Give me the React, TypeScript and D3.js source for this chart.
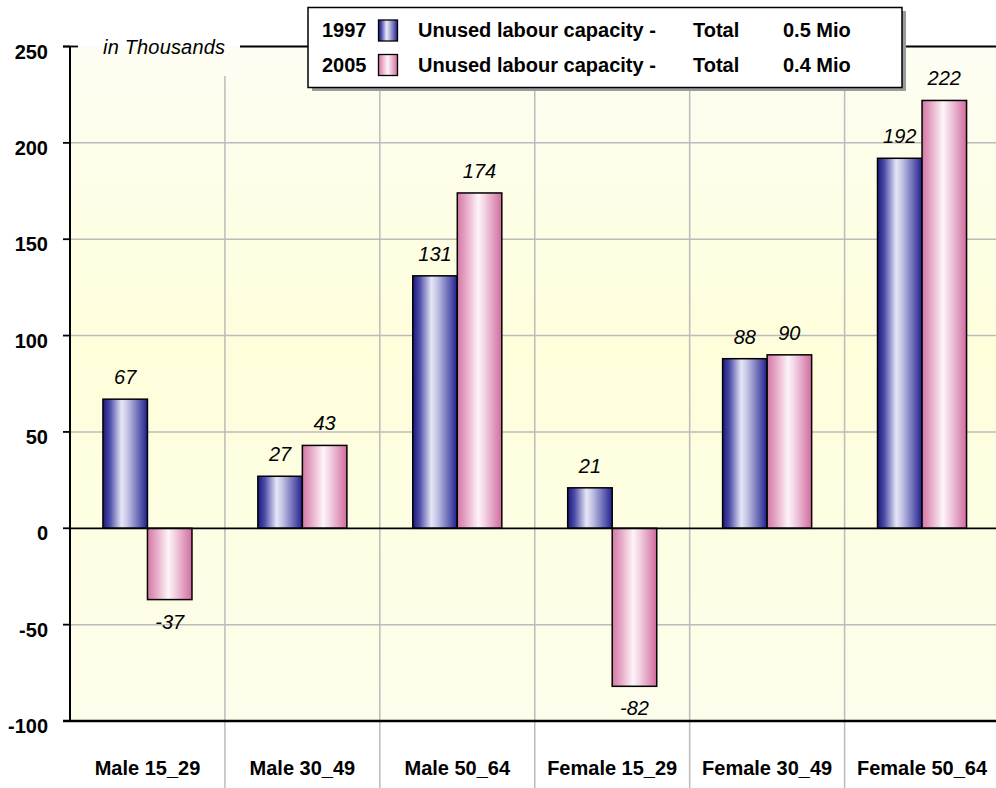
import React from "react";
import * as d3 from "d3";

const categories = ["Male 15_29", "Male 30_49", "Male 50_64", "Female 15_29", "Female 30_49", "Female 50_64"];
const seriesNames = ["1997", "2005"];
const values1997 = [67, 27, 131, 21, 88, 192];
const values2005 = [-37, 43, 174, -82, 90, 222];
const yTicks = [250, 200, 150, 100, 50, 0, -50, -100];
const legendLabels = ["Unused labour capacity -", "Unused labour capacity -"];
const legendTotals = ["0.5 Mio", "0.4 Mio"];

const W = 996;
const H = 788;
const FONT = "'Liberation Sans', Arial, sans-serif";

export default function App() {
  const x = d3.scaleBand<string>().domain(categories).range([70, 999.5]).paddingInner(0).paddingOuter(0);
  const xs = d3.scaleBand<string>().domain(seriesNames).range([0, x.bandwidth()]).paddingInner(0).paddingOuter(0.74);
  const y = d3.scaleLinear().domain([-100, 250]).range([721, 46.5]);
  const series = [values1997, values2005];
  const grads = ["gBlue", "gPink"];
  const plotL = 70;
  const plotR = 999.5;

  return (
    <svg width={W} height={H} style={{ position: "absolute", left: 0, top: 0, fontFamily: FONT }}>
      <defs>
        <linearGradient id="gBg" x1="0" y1="0" x2="0" y2="1">
          <stop offset="0" stopColor="#fdfdf3" />
          <stop offset="0.45" stopColor="#fefedb" />
          <stop offset="1" stopColor="#fdfdec" />
        </linearGradient>
        <linearGradient id="gBlue" x1="0" y1="0" x2="1" y2="0">
          <stop offset="0" stopColor="#1a1a7e" />
          <stop offset="0.15" stopColor="#4a4aa6" />
          <stop offset="0.42" stopColor="#e6e6f6" />
          <stop offset="0.55" stopColor="#c4c4e6" />
          <stop offset="0.85" stopColor="#5858ae" />
          <stop offset="1" stopColor="#20208a" />
        </linearGradient>
        <linearGradient id="gPink" x1="0" y1="0" x2="1" y2="0">
          <stop offset="0" stopColor="#d478a6" />
          <stop offset="0.2" stopColor="#e6a8c6" />
          <stop offset="0.47" stopColor="#fdf4f8" />
          <stop offset="0.6" stopColor="#f4d6e6" />
          <stop offset="1" stopColor="#d06c9e" />
        </linearGradient>
      </defs>

      <rect x={plotL} y={y(250)} width={plotR - plotL} height={y(-100) - y(250)} fill="url(#gBg)" />

      {yTicks.filter((t) => t !== 250 && t !== 0 && t !== -100).map((t) => (
        <line key={"hg" + t} x1={plotL} x2={plotR} y1={y(t)} y2={y(t)} stroke="#bbbbbb" strokeWidth={1.5} />
      ))}

      {categories.slice(1).map((c) => (
        <line key={"vg" + c} x1={x(c)!} x2={x(c)!} y1={76} y2={H} stroke="#bbbbbb" strokeWidth={1.5} />
      ))}

      {categories.map((c, i) =>
        series.map((vals, s) => {
          const v = vals[i];
          const bx = x(c)! + xs(seriesNames[s])!;
          const y0 = y(0);
          const yv = y(v);
          return (
            <rect
              key={c + s}
              x={bx}
              y={Math.min(y0, yv)}
              width={xs.bandwidth()}
              height={Math.abs(yv - y0)}
              fill={`url(#${grads[s]})`}
              stroke="#000"
              strokeWidth={1.5}
            />
          );
        })
      )}

      {categories.map((c, i) =>
        series.map((vals, s) => {
          const v = vals[i];
          const cx = x(c)! + xs(seriesNames[s])! + xs.bandwidth() / 2;
          const ty = v >= 0 ? y(v) - 15 : y(v) + 29;
          return (
            <text key={"vl" + c + s} x={cx} y={ty} textAnchor="middle" fontSize={20} fontStyle="italic" fill="#000">
              {v}
            </text>
          );
        })
      )}

      <line x1={plotL} x2={plotR} y1={y(0)} y2={y(0)} stroke="#000" strokeWidth={1.8} />
      <line x1={plotL - 7} x2={plotR} y1={y(-100)} y2={y(-100)} stroke="#000" strokeWidth={2.5} />
      <line x1={plotL} x2={plotL} y1={y(250)} y2={y(-100)} stroke="#000" strokeWidth={2} />
      <line x1={plotL - 7} x2={78} y1={y(250)} y2={y(250)} stroke="#000" strokeWidth={1.8} />
      <line x1={240} x2={plotR} y1={y(250)} y2={y(250)} stroke="#000" strokeWidth={1.8} />
      <text x={103} y={y(250) + 7} fontSize={20} fontStyle="italic" fill="#000" textLength={122}>
        in Thousands
      </text>

      {yTicks.map((t) => (
        <g key={"yt" + t}>
          <line x1={plotL - 7} x2={plotL} y1={y(t)} y2={y(t)} stroke="#000" strokeWidth={1.8} />
          <text x={48} y={y(t) + 12} textAnchor="end" fontSize={20} fontWeight="bold" fill="#000">
            {t}
          </text>
        </g>
      ))}

      {categories.map((c) => (
        <text key={"cl" + c} x={x(c)! + x.bandwidth() / 2} y={775} textAnchor="middle" fontSize={20} fontWeight="bold" fill="#000">
          {c}
        </text>
      ))}

      <rect x={312} y={11} width={594} height={80} fill="#9a9a9a" />
      <rect x={308} y={7.5} width={594} height={80} fill="#fff" stroke="#000" strokeWidth={1.5} />
      {seriesNames.map((s, i) => {
        const cy = 30 + i * 34.5;
        return (
          <g key={"lg" + s}>
            <text x={322} y={cy + 7} fontSize={20} fontWeight="bold" fill="#000">{s}</text>
            <rect x={378.5} y={cy - 10} width={19} height={21} fill={`url(#${grads[i]})`} stroke="#000" strokeWidth={1.3} />
            <text x={418} y={cy + 7} fontSize={20} fontWeight="bold" fill="#000">{legendLabels[i]}</text>
            <text x={693} y={cy + 7} fontSize={20} fontWeight="bold" fill="#000">Total</text>
            <text x={783} y={cy + 7} fontSize={20} fontWeight="bold" fill="#000">{legendTotals[i]}</text>
          </g>
        );
      })}
    </svg>
  );
}
